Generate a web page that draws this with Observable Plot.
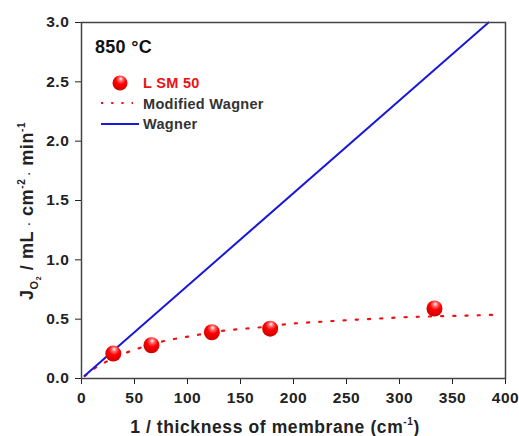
<!DOCTYPE html>
<html>
<head>
<meta charset="utf-8">
<script src="https://cdn.jsdelivr.net/npm/d3@7"></script>
<script src="https://cdn.jsdelivr.net/npm/@observablehq/plot@0.6"></script>
<style>
  html, body { margin: 0; padding: 0; background: #fff; }
  #chart { width: 519px; height: 436px; }
</style>
</head>
<body>
<div id="chart"></div>
<script>
// ---- data ----
const xTicks = [0, 50, 100, 150, 200, 250, 300, 350, 400];
const yTicks = [0, 0.5, 1.0, 1.5, 2.0, 2.5, 3.0];

const lsmX = [30, 66, 123, 178, 333];
const lsmY = [0.21, 0.28, 0.39, 0.42, 0.59];

const wagnerX = [3, 384];
const wagnerY = [0.023, 3.0];

const modX = [3, 7, 14, 23, 30, 43, 56, 68, 80, 92, 105, 120, 142, 154, 167, 185, 204, 230, 255, 280, 304, 330, 354, 375, 391];
const modY = [0.02, 0.05, 0.095, 0.14, 0.17, 0.22, 0.26, 0.29, 0.32, 0.34, 0.36, 0.385, 0.41, 0.42, 0.43, 0.45, 0.466, 0.48, 0.494, 0.505, 0.516, 0.523, 0.528, 0.533, 0.537];

const legendLabels = ["L SM 50", "Modified Wagner", "Wagner"];
const tempLabel = "850 °C";

const lsm = lsmX.map((x, i) => ({x, y: lsmY[i]}));
const wagner = wagnerX.map((x, i) => ({x, y: wagnerY[i]}));
const mod = modX.map((x, i) => ({x, y: modY[i]}));

const RED = "#ee1111";
const BLUE = "#1a1ad6";
const NS = "http://www.w3.org/2000/svg";

function defsMark() {
  const g = document.createElementNS(NS, "g");
  g.innerHTML = `<defs><radialGradient id="sphereGrad" cx="0.55" cy="0.3" r="0.75" fx="0.55" fy="0.22">
    <stop offset="0" stop-color="#ffffff"/>
    <stop offset="0.18" stop-color="#ff7070"/>
    <stop offset="0.45" stop-color="#ff0000"/>
    <stop offset="1" stop-color="#c80000"/>
  </radialGradient></defs>`;
  return g;
}

function legendMark(index, scales, values, dims) {
  const ml = dims.marginLeft, mt = dims.marginTop;
  const g = d3.create("svg:g").attr("font-family", "Arial, 'Liberation Sans', sans-serif")
    .attr("text-anchor", "start").style("letter-spacing", "0.3px");
  g.append("text").attr("x", ml + 14).attr("y", mt + 31)
    .attr("font-size", 18).attr("font-weight", "bold").attr("fill", "#111")
    .text(tempLabel);
  g.append("circle").attr("cx", ml + 39).attr("cy", mt + 61).attr("r", 7.5)
    .attr("fill", "url(#sphereGrad)");
  g.append("text").attr("x", ml + 62).attr("y", mt + 66)
    .attr("font-size", 14.5).attr("font-weight", "bold").attr("fill", RED)
    .text(legendLabels[0]);
  g.append("line").attr("x1", ml + 20).attr("x2", ml + 52).attr("y1", mt + 81).attr("y2", mt + 81)
    .attr("stroke", RED).attr("stroke-width", 2.2).attr("stroke-dasharray", "2.2,8").attr("stroke-linecap", "butt");
  g.append("text").attr("x", ml + 62).attr("y", mt + 87)
    .attr("font-size", 14.5).attr("font-weight", "bold").attr("fill", "#333")
    .text(legendLabels[1]);
  g.append("line").attr("x1", ml + 20).attr("x2", ml + 58).attr("y1", mt + 102).attr("y2", mt + 102)
    .attr("stroke", BLUE).attr("stroke-width", 2);
  g.append("text").attr("x", ml + 62).attr("y", mt + 107)
    .attr("font-size", 14.5).attr("font-weight", "bold").attr("fill", "#333")
    .text(legendLabels[2]);
  return g.node();
}

function axisLabelsMark(index, scales, values, dims) {
  const g = d3.create("svg:g").attr("font-family", "Arial, 'Liberation Sans', sans-serif")
    .attr("font-weight", "bold").attr("fill", "#222").style("letter-spacing", "0.6px");
  const cx = 275;
  const xt = g.append("text").attr("x", cx).attr("y", dims.height - 3)
    .attr("text-anchor", "middle").attr("font-size", 17.5);
  xt.append("tspan").text("1 / thickness of membrane (cm");
  xt.append("tspan").attr("font-size", 10).attr("dy", -8).text("-1");
  xt.append("tspan").attr("dy", 8).text(")");

  const cy = 211;
  const yt = g.append("text").attr("transform", `translate(33,${cy}) rotate(-90)`)
    .attr("text-anchor", "middle").attr("font-size", 18);
  yt.append("tspan").text("J");
  yt.append("tspan").attr("font-size", 11).attr("dy", 5).text("O");
  yt.append("tspan").attr("font-size", 7).attr("dy", 3).text("2");
  yt.append("tspan").attr("dy", -8).text(" / mL ");
  yt.append("tspan").attr("font-size", 10).text("·");
  yt.append("tspan").text(" cm");
  yt.append("tspan").attr("font-size", 10).attr("dy", -8).text("-2");
  yt.append("tspan").attr("font-size", 10).attr("dy", 8).text(" ·");
  yt.append("tspan").text(" min");
  yt.append("tspan").attr("font-size", 10).attr("dy", -8).text("-1");
  return g.node();
}

const chart = Plot.plot({
  width: 519,
  height: 436,
  marginLeft: 81,
  marginRight: 14,
  marginTop: 22,
  marginBottom: 58,
  style: {fontFamily: "Arial, 'Liberation Sans', sans-serif", fontSize: "15.5px", fontWeight: "bold", color: "#222", background: "#fff", letterSpacing: "0.6px"},
  x: {domain: [0, 400]},
  y: {domain: [0, 3]},
  marks: [
    defsMark,
    Plot.axisX({ticks: xTicks, tickSize: 6, tickPadding: 7, label: null, fontSize: 15.5, tickFormat: d => String(d)}),
    Plot.axisY({ticks: yTicks, tickSize: 6, tickPadding: 6, label: null, fontSize: 15.5, tickFormat: d => d.toFixed(1)}),
    Plot.line(mod, {x: "x", y: "y", stroke: RED, strokeWidth: 2.2, strokeDasharray: "2.2,10", curve: "monotone-x"}),
    Plot.line(wagner, {x: "x", y: "y", stroke: BLUE, strokeWidth: 2}),
    Plot.dot(lsm, {x: "x", y: "y", r: 8, fill: "url(#sphereGrad)", stroke: "none"}),
    Plot.frame({stroke: "#444", strokeWidth: 1.5}),
    legendMark,
    axisLabelsMark
  ]
});
document.getElementById("chart").appendChild(chart);
</script>
</body>
</html>
